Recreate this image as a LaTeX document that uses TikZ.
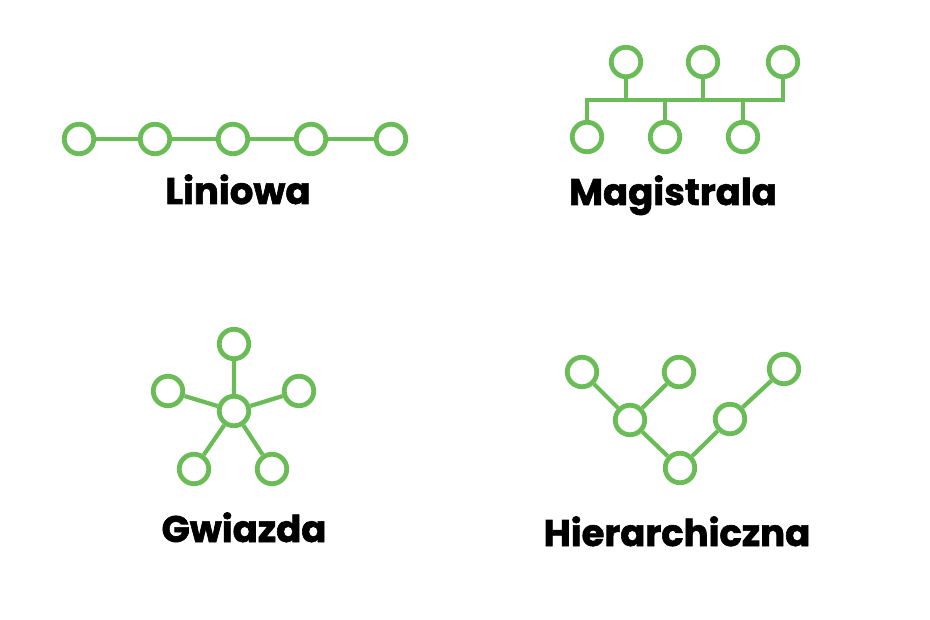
\documentclass[tikz,border=0pt]{standalone}
\usepackage{fontspec}
\setmainfont{Poppins}[BoldFeatures={FakeBold=1.6}]
\definecolor{netgreen}{RGB}{106,189,86}
\begin{document}
\begin{tikzpicture}[x=1pt,y=-1pt,
  nd/.style={circle,draw=netgreen,line width=4.8pt,minimum size=29.5pt,inner sep=0pt,fill=white},
  ln/.style={draw=netgreen,line width=4.2pt},
  lbl/.style={anchor=base,font=\bfseries\fontsize{37}{40}\selectfont,text=black,inner sep=0pt}]
\useasboundingbox (0,0) rectangle (930,620);
% Liniowa
\node[nd] (l1) at (79,139) {};
\node[nd] (l2) at (155,139) {};
\node[nd] (l3) at (233,139) {};
\node[nd] (l4) at (311,139) {};
\node[nd] (l5) at (391,139) {};
\draw[ln] (l1) -- (l2) (l2) -- (l3) (l3) -- (l4) (l4) -- (l5);
\node[lbl] (t1) at (238,204) {Liniowa};
% Magistrala
\coordinate (bl) at (587,100);
\coordinate (br) at (783,100);
\node[nd] (mt1) at (626,62) {};
\node[nd] (mt2) at (703,62) {};
\node[nd] (mt3) at (783,62) {};
\node[nd] (mb1) at (587,137) {};
\node[nd] (mb2) at (665,137) {};
\node[nd] (mb3) at (743,137) {};
\draw[ln,line cap=rect] (bl) -- (br);
\draw[ln] (mt1) -- (mt1 |- bl) (mt2) -- (mt2 |- bl) (mt3) -- (br);
\draw[ln] (mb1) -- (bl) (mb2) -- (mb2 |- bl) (mb3) -- (mb3 |- bl);
\node[lbl] (t2) at (673,205) {Magistrala};
% Gwiazda
\node[nd] (gc) at (234,411) {};
\node[nd] (g1) at (234,344) {};
\node[nd] (g2) at (168,391) {};
\node[nd] (g3) at (299,391) {};
\node[nd] (g4) at (194,469) {};
\node[nd] (g5) at (272,469) {};
\draw[ln] (gc) -- (g1) (gc) -- (g2) (gc) -- (g3) (gc) -- (g4) (gc) -- (g5);
\node[lbl] (t3) at (244,542) {Gwiazda};
% Hierarchiczna
\node[nd] (h1) at (582,372) {};
\node[nd] (h2) at (679,372) {};
\node[nd] (h3) at (784,369) {};
\node[nd] (h4) at (630,420) {};
\node[nd] (h5) at (730,419) {};
\node[nd] (h6) at (680,468) {};
\draw[ln] (h1) -- (h4) (h2) -- (h4) (h4) -- (h6) (h6) -- (h5) (h5) -- (h3);
\node[lbl] (t4) at (677,546) {Hierarchiczna};
\end{tikzpicture}
\end{document}
